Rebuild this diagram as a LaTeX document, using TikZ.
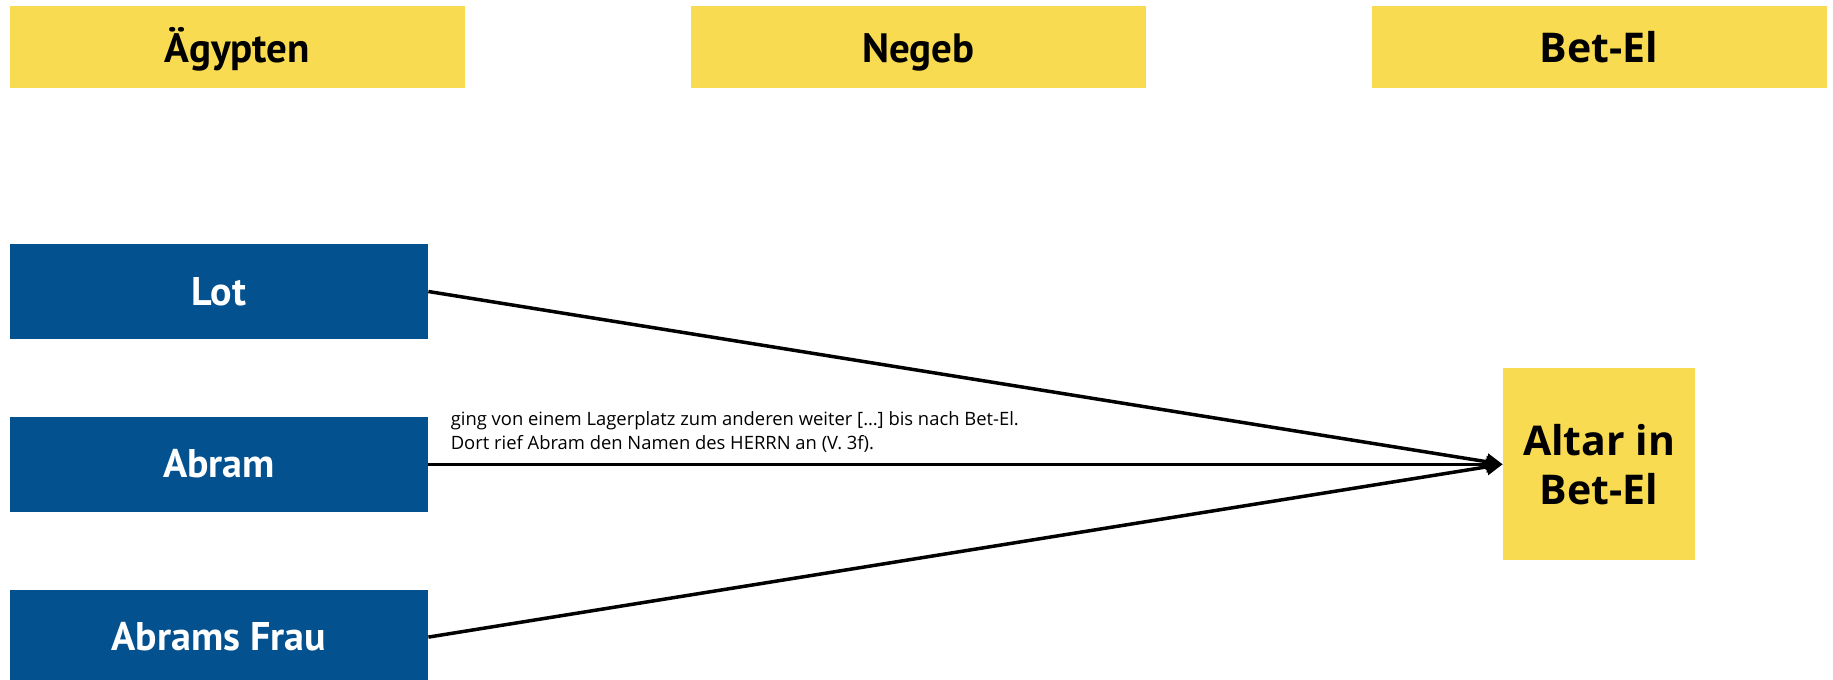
\documentclass[tikz,border=0pt]{standalone}
\usepackage{fontspec}
\setmainfont{PT Sans}
\newfontfamily\altarfont{Open Sans}
\usepackage{xcolor}
\usepackage{tikz}
\usetikzlibrary{positioning, arrows.meta}
\definecolor{placeyellow}{HTML}{F8DB50}
\definecolor{personblue}{HTML}{03518F}
\tikzset{
    place/.style={rectangle, fill=placeyellow, minimum width=227.5pt, minimum height=41pt, inner sep=0pt, text height=19pt, text depth=4pt, font=\fontsize{20.5pt}{24.5pt}\selectfont\bfseries},
    goalPlace/.style={place, font=\altarfont\fontsize{20.5pt}{24.5pt}\selectfont\bfseries},
    person/.style={rectangle, fill=personblue, text=white, minimum width=209pt, minimum height=47.5pt, inner sep=0pt, text height=17.5pt, text depth=4pt, font=\fontsize{20pt}{24pt}\selectfont\bfseries},
    altar/.style={rectangle, fill=placeyellow, minimum size=96pt, align=center, inner sep=0pt, font=\altarfont\fontsize{20.5pt}{24.5pt}\selectfont\bfseries},
    arrow/.style={-{Triangle[length=8pt, width=8pt]}, line width=1.75pt},
    note/.style={align=left, inner sep=0pt, font=\altarfont\fontsize{9.2pt}{12pt}\selectfont}
}

\begin{document}
\begin{tikzpicture}[x=0.5pt, y=-0.5pt]
        \useasboundingbox (0,0) rectangle (1833,680);

        % Places
        \node[place] (Agypten) at (237.5,47) {Ägypten};
        \node[place, right=112.5pt of Agypten] (Negeb) {Negeb};
        \node[goalPlace, right=112.5pt of Negeb] (BetEl) {Bet-El};

        % People
        \node[person] (Lot) at (219,291.5) {Lot};
        \node[person, below=38.5pt of Lot] (Abram) {Abram};
        \node[person, below=38.5pt of Abram] (Frau) {Abrams Frau};

        % Goal
        \node[altar] (Altar) at (BetEl |- Abram) {Altar in\\Bet-El};

        % Journeys
        \draw[arrow] (Lot.east) -- (Altar.west);
        \draw[arrow] (Abram.east) -- (Altar.west);
        \draw[arrow] (Frau.east) -- (Altar.west);

        \node[note, above right=5.5pt and 11pt of Abram.east] (Journey) {ging von einem Lagerplatz zum anderen weiter […] bis nach Bet-El.\\Dort rief Abram den Namen des HERRN an (V. 3f).};
    \end{tikzpicture}
\end{document}
